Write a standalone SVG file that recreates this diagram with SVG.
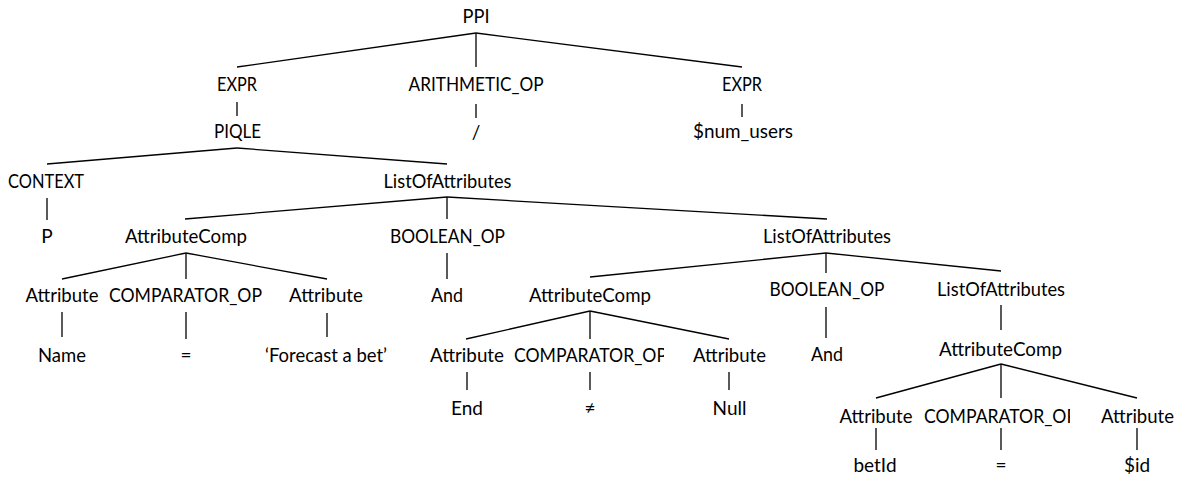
<svg xmlns="http://www.w3.org/2000/svg" width="1191" height="480" viewBox="0 0 1191 480">
<style>
text{font-family:Lato,"Liberation Sans",sans-serif;font-size:19px;fill:#000;text-anchor:middle}
.e line{stroke:#000;stroke-width:1.3}
</style>
<defs>
<clipPath id="c1"><rect x="500" y="330" width="164" height="40"/></clipPath>
<clipPath id="c2"><rect x="910" y="390" width="160" height="40"/></clipPath>
</defs>
<rect width="1191" height="480" fill="#fff"/>
<g id="edges" class="e">
<line x1="476" y1="33" x2="237" y2="67"/>
<line x1="476" y1="33" x2="476" y2="67"/>
<line x1="476" y1="33" x2="742" y2="67"/>
<line x1="237" y1="102" x2="237" y2="116"/>
<line x1="476" y1="104" x2="476" y2="118"/>
<line x1="742" y1="104" x2="742" y2="117"/>
<line x1="237" y1="148" x2="47" y2="164"/>
<line x1="237" y1="148" x2="447" y2="164"/>
<line x1="47" y1="198" x2="47" y2="220"/>
<line x1="447" y1="197" x2="185" y2="219"/>
<line x1="447" y1="197" x2="447" y2="219"/>
<line x1="447" y1="197" x2="827" y2="219"/>
<line x1="186" y1="253" x2="62" y2="279"/>
<line x1="186" y1="253" x2="186" y2="279"/>
<line x1="186" y1="253" x2="327" y2="279"/>
<line x1="447" y1="253" x2="447" y2="279"/>
<line x1="826" y1="253" x2="590" y2="277"/>
<line x1="826" y1="253" x2="826" y2="273"/>
<line x1="826" y1="253" x2="1001" y2="271"/>
<line x1="62" y1="312" x2="62" y2="337"/>
<line x1="186" y1="312" x2="186" y2="339"/>
<line x1="327" y1="313" x2="327" y2="337"/>
<line x1="590" y1="311" x2="466" y2="339"/>
<line x1="590" y1="311" x2="590" y2="339"/>
<line x1="590" y1="311" x2="729" y2="339"/>
<line x1="826" y1="307" x2="826" y2="338"/>
<line x1="1001" y1="305" x2="1001" y2="330"/>
<line x1="467" y1="372" x2="467" y2="390"/>
<line x1="590" y1="372" x2="590" y2="390"/>
<line x1="729" y1="372" x2="729" y2="390"/>
<line x1="1001" y1="364" x2="876" y2="398"/>
<line x1="1001" y1="364" x2="1001" y2="398"/>
<line x1="1001" y1="364" x2="1137" y2="398"/>
<line x1="876" y1="428" x2="876" y2="450"/>
<line x1="1001" y1="428" x2="1001" y2="450"/>
<line x1="1137" y1="428" x2="1137" y2="450"/>
</g>
<g id="n-ppi"><text x="476" y="23" textLength="27" lengthAdjust="spacingAndGlyphs">PPI</text></g>
<g id="n-expr1"><text x="237" y="91" textLength="40" lengthAdjust="spacingAndGlyphs">EXPR</text></g>
<g id="n-arith"><text x="476" y="91" textLength="135" lengthAdjust="spacingAndGlyphs">ARITHMETIC_OP</text></g>
<g id="n-expr2"><text x="742" y="91" textLength="40" lengthAdjust="spacingAndGlyphs">EXPR</text></g>
<g id="n-piqle"><text x="237.5" y="138" textLength="47" lengthAdjust="spacingAndGlyphs">PIQLE</text></g>
<g id="n-slash"><text x="476" y="139">/</text></g>
<g id="n-numusers"><text x="743" y="138" textLength="100" lengthAdjust="spacingAndGlyphs">$num_users</text></g>
<g id="n-context"><text x="46" y="188" textLength="76" lengthAdjust="spacingAndGlyphs">CONTEXT</text></g>
<g id="n-list1"><text x="447.5" y="188" textLength="128" lengthAdjust="spacingAndGlyphs">ListOfAttributes</text></g>
<g id="n-p"><text x="47" y="243">P</text></g>
<g id="n-acomp1"><text x="186" y="243" textLength="122" lengthAdjust="spacingAndGlyphs">AttributeComp</text></g>
<g id="n-bool1"><text x="447.5" y="243" textLength="115" lengthAdjust="spacingAndGlyphs">BOOLEAN_OP</text></g>
<g id="n-list2"><text x="827" y="243" textLength="128" lengthAdjust="spacingAndGlyphs">ListOfAttributes</text></g>
<g id="n-attr1"><text x="62" y="302" textLength="73" lengthAdjust="spacingAndGlyphs">Attribute</text></g>
<g id="n-comp1"><text x="185.5" y="302" textLength="153" lengthAdjust="spacingAndGlyphs">COMPARATOR_OP</text></g>
<g id="n-attr2"><text x="326" y="302" textLength="74" lengthAdjust="spacingAndGlyphs">Attribute</text></g>
<g id="n-and1"><text x="447" y="302" textLength="32" lengthAdjust="spacingAndGlyphs">And</text></g>
<g id="n-acomp2"><text x="590" y="302" textLength="122" lengthAdjust="spacingAndGlyphs">AttributeComp</text></g>
<g id="n-bool2"><text x="827" y="296" textLength="115" lengthAdjust="spacingAndGlyphs">BOOLEAN_OP</text></g>
<g id="n-list3"><text x="1001" y="296" textLength="128" lengthAdjust="spacingAndGlyphs">ListOfAttributes</text></g>
<g id="n-name"><text x="62" y="362" textLength="48" lengthAdjust="spacingAndGlyphs">Name</text></g>
<g id="n-eq1"><text x="186" y="362">=</text></g>
<g id="n-forecast"><text x="326" y="362" textLength="122" lengthAdjust="spacingAndGlyphs">‘Forecast a bet’</text></g>
<g id="n-attr3"><text x="467" y="362" textLength="74" lengthAdjust="spacingAndGlyphs">Attribute</text></g>
<g id="n-comp2" clip-path="url(#c1)"><text x="590.5" y="362" textLength="153" lengthAdjust="spacingAndGlyphs">COMPARATOR_OP</text></g>
<g id="n-attr4"><text x="729.5" y="362" textLength="73" lengthAdjust="spacingAndGlyphs">Attribute</text></g>
<g id="n-and2"><text x="827" y="361" textLength="32" lengthAdjust="spacingAndGlyphs">And</text></g>
<g id="n-acomp3"><text x="1000.5" y="356" textLength="123" lengthAdjust="spacingAndGlyphs">AttributeComp</text></g>
<g id="n-end"><text x="467" y="415">End</text></g>
<g id="n-neq"><text x="590" y="415">≠</text></g>
<g id="n-null"><text x="729.5" y="415">Null</text></g>
<g id="n-attr5"><text x="876" y="423" textLength="73" lengthAdjust="spacingAndGlyphs">Attribute</text></g>
<g id="n-comp3" clip-path="url(#c2)"><text x="1000.5" y="423" textLength="153" lengthAdjust="spacingAndGlyphs">COMPARATOR_OP</text></g>
<g id="n-attr6"><text x="1137.5" y="423" textLength="73" lengthAdjust="spacingAndGlyphs">Attribute</text></g>
<g id="n-betid"><text x="875" y="472">betId</text></g>
<g id="n-eq2"><text x="1001" y="472">=</text></g>
<g id="n-id"><text x="1137" y="472">$id</text></g>
</svg>
